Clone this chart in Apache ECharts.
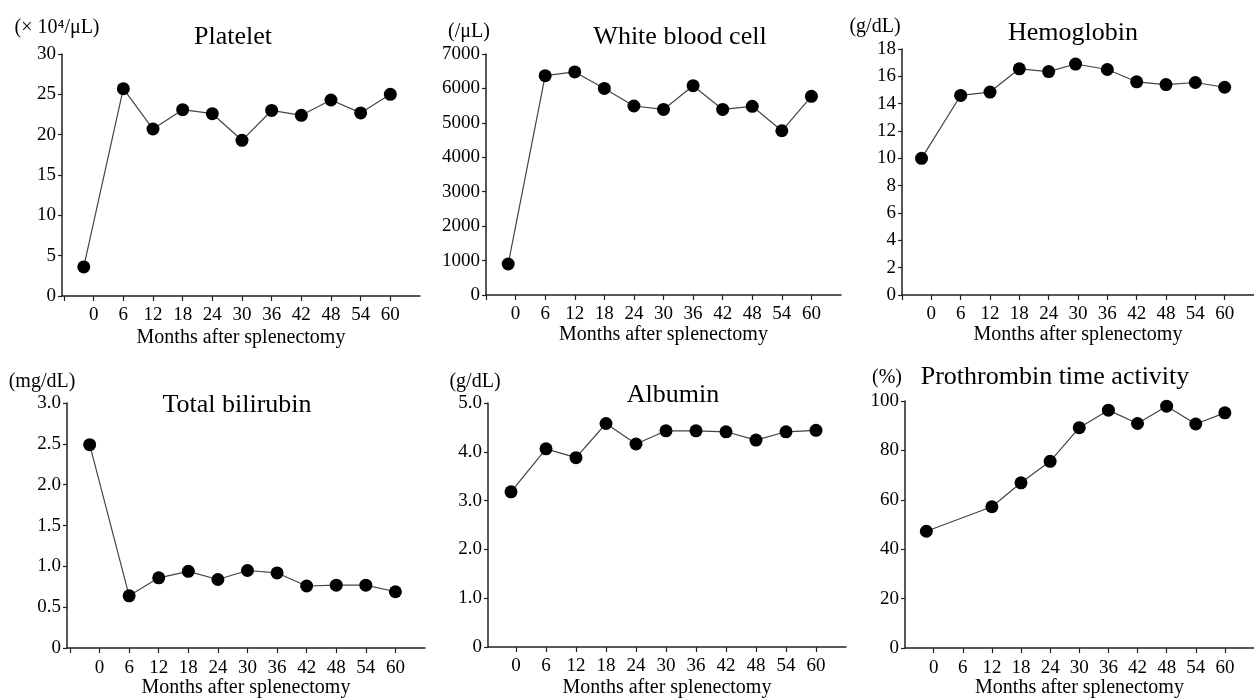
<!DOCTYPE html>
<html>
<head>
<meta charset="utf-8">
<script src="https://cdn.jsdelivr.net/npm/echarts@6/dist/echarts.min.js"></script>
<style>
  html, body { margin: 0; padding: 0; background: #fff; }
  #myChart { width: 1254px; height: 699px; }
</style>
</head>
<body>
<div id="myChart"></div>
<script>
/*---------- data ----------*/
var xTickLabels = [0, 6, 12, 18, 24, 30, 36, 42, 48, 54, 60];
var xTickMarks = [-6, 0, 6, 12, 18, 24, 30, 36, 42, 48, 54, 60];

var plateletMonths = [-2, 6, 12, 18, 24, 30, 36, 42, 48, 54, 60];
var platelet = [3.6, 25.7, 20.7, 23.1, 22.6, 19.3, 23.0, 22.4, 24.3, 22.7, 25.0];

var wbcMonths = [-1.5, 6, 12, 18, 24, 30, 36, 42, 48, 54, 60];
var wbc = [900, 6370, 6480, 6000, 5490, 5390, 6080, 5390, 5480, 4770, 5770];

var hemoglobinMonths = [-2, 6, 12, 18, 24, 29.5, 36, 42, 48, 54, 60];
var hemoglobin = [10.0, 14.6, 14.85, 16.55, 16.35, 16.9, 16.5, 15.6, 15.4, 15.55, 15.2];

var bilirubinMonths = [-2, 6, 12, 18, 24, 30, 36, 42, 48, 54, 60];
var bilirubin = [2.49, 0.64, 0.86, 0.94, 0.84, 0.95, 0.92, 0.76, 0.77, 0.77, 0.69];

var albuminMonths = [-1, 6, 12, 18, 24, 30, 36, 42, 48, 54, 60];
var albumin = [3.18, 4.06, 3.88, 4.58, 4.16, 4.43, 4.43, 4.41, 4.24, 4.41, 4.44];

var prothrombinMonths = [-1.5, 12, 18, 24, 30, 36, 42, 48, 54, 60];
var prothrombin = [47.3, 57.2, 66.9, 75.6, 89.2, 96.3, 90.9, 97.9, 90.7, 95.2];

var FONT = '"Liberation Serif", "Times New Roman", serif';

/* one entry per small panel: layout + which arrays to use */
var panels = [
    {title: 'Platelet', unit: '(\u00d7 10\u2074/\u03bcL)', x: plateletMonths, y: platelet,
     ymax: 30, yint: 5, dec: false, xmin: -6.4,
     grid: {left: 62, top: 54, width: 358, height: 242}, nameGap: 32, titlePos: [233, 37], unitPos: [57, 28]},
    {title: 'White blood cell', unit: '(/\u03bcL)', x: wbcMonths, y: wbc,
     ymax: 7000, yint: 1000, dec: false, xmin: -6,
     grid: {left: 486, top: 54, width: 355, height: 241}, nameGap: 30, titlePos: [680, 37], unitPos: [469, 32]},
    {title: 'Hemoglobin', unit: '(g/dL)', x: hemoglobinMonths, y: hemoglobin,
     ymax: 18, yint: 2, dec: false, xmin: -6,
     grid: {left: 902, top: 49, width: 358, height: 246}, nameGap: 28, titlePos: [1073, 33], unitPos: [875, 27]},
    {title: 'Total bilirubin', unit: '(mg/dL)', x: bilirubinMonths, y: bilirubin,
     ymax: 3, yint: 0.5, dec: true, xmin: -6.6,
     grid: {left: 67, top: 403, width: 358, height: 249}, nameGap: 27, titlePos: [237, 405], unitPos: [42, 382]},
    {title: 'Albumin', unit: '(g/dL)', x: albuminMonths, y: albumin,
     ymax: 5, yint: 1, dec: true, xmin: -5.6,
     grid: {left: 488, top: 403, width: 358, height: 249}, nameGap: 31, titlePos: [673, 395], unitPos: [475, 382]},
    {title: 'Prothrombin time activity', unit: '(%)', x: prothrombinMonths, y: prothrombin,
     ymax: 100, yint: 20, dec: false, xmin: -5.9,
     grid: {left: 905, top: 401, width: 358, height: 251}, nameGap: 19, titlePos: [1055, 377], unitPos: [887, 378]}
];

var myChart = echarts.init(document.getElementById('myChart'));

var grids = [], xAxes = [], yAxes = [], series = [], texts = [];
panels.forEach(function (p, i) {
    grids.push(p.grid);
    xAxes.push({
        type: 'value',
        gridIndex: i,
        min: p.xmin,
        max: 66,
        name: 'Months after splenectomy',
        nameLocation: 'middle',
        nameGap: p.nameGap,
        nameTextStyle: {color: '#000', fontFamily: FONT, fontSize: 20},
        splitLine: {show: false},
        axisLine: {onZero: false, lineStyle: {color: '#222', width: 1.5}},
        axisTick: {length: 5, customValues: xTickMarks, lineStyle: {color: '#222', width: 1.2}},
        axisLabel: {customValues: xTickLabels, margin: 10, color: '#000', fontFamily: FONT, fontSize: 19}
    });
    yAxes.push({
        type: 'value',
        gridIndex: i,
        min: 0,
        max: p.ymax,
        interval: p.yint,
        splitLine: {show: false},
        axisLine: {show: true, onZero: false, lineStyle: {color: '#222', width: 1.5}},
        axisTick: {show: true, length: 4, lineStyle: {color: '#222', width: 1.2}},
        axisLabel: {
            margin: 6, color: '#000', fontFamily: FONT, fontSize: 19,
            formatter: function (v) {
                if (v === 0) return '0';
                return p.dec ? v.toFixed(1) : String(v);
            }
        }
    });
    series.push({
        type: 'line',
        xAxisIndex: i,
        yAxisIndex: i,
        data: p.x.map(function (m, k) { return [m, p.y[k]]; }),
        symbol: 'circle',
        symbolSize: 13,
        itemStyle: {color: '#000'},
        lineStyle: {color: '#444', width: 1.2},
        animation: false
    });
    texts.push({
        type: 'text', x: p.titlePos[0], y: p.titlePos[1],
        style: {text: p.title, fill: '#000', font: '26px ' + FONT,
                align: 'center', verticalAlign: 'middle', textAlign: 'center', textVerticalAlign: 'middle'}
    });
    texts.push({
        type: 'text', x: p.unitPos[0], y: p.unitPos[1],
        style: {text: p.unit, fill: '#000', font: '20px ' + FONT,
                align: 'center', verticalAlign: 'middle', textAlign: 'center', textVerticalAlign: 'middle'}
    });
});

myChart.setOption({
    backgroundColor: '#fff',
    animation: false,
    grid: grids,
    xAxis: xAxes,
    yAxis: yAxes,
    series: series,
    graphic: texts
});
</script>
</body>
</html>
